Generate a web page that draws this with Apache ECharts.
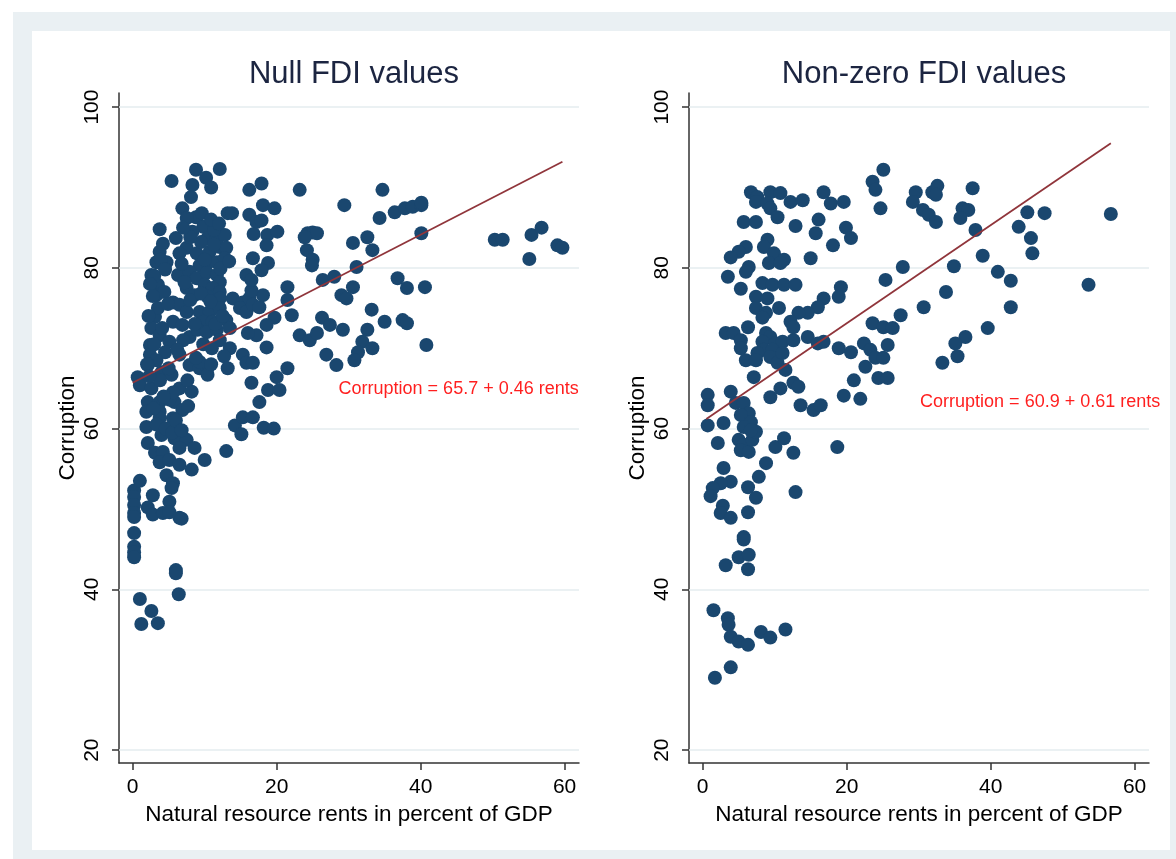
<!DOCTYPE html>
<html>
<head>
<meta charset="utf-8">
<script src="https://cdn.jsdelivr.net/npm/echarts@6/dist/echarts.min.js"></script>
<style>
  html, body { margin: 0; padding: 0; background: #fff; }
  .frame { position: absolute; left: 13px; top: 12px; width: 1163px; height: 847px; background: #eaf0f3; }
  .panel { position: absolute; left: 32px; top: 31px; width: 1138px; height: 819px; background: #fff; }
  .chart-container { position: absolute; left: 0; top: 0; width: 1176px; height: 859px; }
</style>
</head>
<body>
<div class="frame"></div>
<div class="panel"></div>
<div class="chart-container"></div>
<script>
// natural resource rents (% of GDP), corruption
const nullFdiPoints = [
  [0.2,52.3],[0.2,51.5],[0.2,50.5],[0.2,49.5],[0.2,49.0],[0.2,47.0],[0.2,45.3],[0.2,44.6],[0.2,44.0],[1.0,53.5],
  [1.0,38.8],[2.6,37.3],[1.2,35.7],[3.5,35.8],[6.0,42.4],[6.0,42.0],[6.4,39.4],
  [2.8,51.7],[2.1,50.2],[2.8,49.3],[4.2,49.5],[5.1,50.9],[5.1,49.6],[6.5,48.9],[6.8,48.8],
  [2.1,63.3],[3.75,63.3],[1.9,62.1],[3.75,62.1],[5.8,63.3],[6.9,62.3],[5.6,61.3],[3.75,61.3],[1.9,60.2],[4.0,59.2],
  [2.1,58.2],[3.1,57.0],[4.2,57.1],[5.8,58.8],[7.5,58.6],[8.6,57.6],[6.5,57.6],[3.75,55.8],[5.1,56.1],[6.5,55.5],
  [8.2,54.9],[4.7,54.2],[5.6,53.2],[5.4,52.6],[10.0,56.1],[13.0,57.2],[14.2,60.4],[15.3,61.4],[16.7,61.4],[15.1,59.3],
  [17.6,63.3],[18.2,60.1],[19.6,60.0],
  [5.4,90.8],[8.8,92.2],[12.1,92.3],[10.2,91.2],[10.9,90.0],[8.3,90.3],[8.1,88.8],[6.9,87.4],[8.8,86.3],[9.8,85.1],
  [3.75,84.8],[13.2,86.8],[13.8,86.8],[16.2,89.7],[17.9,90.5],[18.1,87.8],[16.2,86.6],[17.2,85.7],[16.8,84.2],[18.7,84.1],
  [23.2,89.7],[34.7,89.7],[29.4,87.8],[34.3,86.2],[36.4,86.9],[37.8,87.4],[38.9,87.6],[40.1,87.8],[40.1,88.1],[40.1,84.3],
  [24.3,84.3],[25.0,84.4],[25.6,84.3],[23.9,83.8],[24.2,82.2],[25.0,81.0],[24.9,80.3],[30.6,83.1],[32.6,83.8],[33.3,82.2],
  [31.1,80.1],[50.3,83.5],[51.4,83.5],[55.4,84.1],[56.8,85.0],[55.1,81.1],[59.0,82.8],[59.7,82.5],[26.4,78.5],[28.0,78.9],
  [30.6,77.6],[29.0,76.6],[29.7,76.2],[36.8,78.7],[38.1,77.5],[40.6,77.6],[33.2,74.8],[35.0,73.3],[37.5,73.5],[38.1,73.1],
  [26.3,73.8],[27.4,72.9],[29.2,72.3],[23.2,71.6],[24.6,71.0],[25.6,71.9],[32.6,72.3],[31.9,70.8],[31.3,69.5],[30.8,68.5],
  [33.3,70.0],[26.9,69.2],[28.3,67.9],[40.8,70.4],[21.5,77.6],[21.5,76.0],[22.1,74.1],[19.7,73.8],[18.6,70.1],[21.5,67.5],
  [20.0,66.4],[18.8,64.8],[20.4,64.8],[19.7,87.4],[17.9,85.9],[20.1,84.5],[18.8,80.6],[17.9,79.7],
  [3.75,82.0],[3.3,80.7],[4.7,80.7],[2.6,79.1],[3.5,77.9],[3.3,76.6],[4.4,77.0],[6.3,79.1],[5.6,75.7],[3.1,73.9],
  [2.6,72.5],[3.75,71.6],[2.4,70.4],[2.4,69.2],[2.1,67.9],[0.7,66.4],[1.0,65.4],[2.6,65.0],[4.0,67.0],[5.1,70.8],
  [5.6,73.3],[6.9,72.9],[6.5,69.2],[7.9,71.4],[7.9,67.9],[9.3,67.5],[10.4,67.5],[5.4,66.7],[6.5,65.0],[8.2,64.6],[5.1,63.6],
  [7.5,86.2],[6.0,83.7],[8.3,84.5],[10.4,83.7],[11.7,83.8],[12.8,84.1],[7.5,82.5],[8.9,81.8],[6.5,81.8],[10.7,82.0],
  [12.1,82.6],[13.0,82.5],[10.4,80.7],[11.7,80.7],[12.8,81.2],[9.3,80.3],[7.9,79.5],[8.9,78.7],[10.3,79.4],[11.7,79.1],
  [12.1,78.2],[10.0,77.9],[7.5,77.5],[11.1,77.5],[12.1,77.0],[8.6,76.6],[10.4,76.4],[12.1,76.2],[13.9,76.2],[15.3,75.7],
  [16.2,76.2],[6.5,75.4],[7.5,74.5],[9.3,74.5],[10.7,74.5],[12.1,75.0],[13.0,73.5],[9.8,73.3],[11.1,73.3],[9.0,72.3],
  [10.3,72.0],[11.7,72.3],[13.5,72.5],[12.1,71.0],[13.5,70.0],[15.3,69.2],[15.8,68.2],[16.7,68.2],[10.4,66.7],[9.3,68.3],
  [16.5,65.7],[17.2,71.6],[16.0,71.9],[18.6,72.9],[14.9,75.0],[15.8,74.5],[16.7,75.4],[17.6,75.1],[18.1,76.6],[16.5,77.2],
  [15.8,79.1],[16.5,78.5],[16.7,81.2],[18.6,82.8],
  [3.0,79.0],[2.4,78.0],[3.9,81.0],[4.2,83.0],[4.5,79.8],[2.8,76.5],[3.5,75.0],[4.9,75.5],[2.2,74.0],[4.1,72.5],
  [3.0,70.5],[4.5,69.5],[3.3,68.5],[2.0,68.0],[5.0,67.5],[3.8,66.0],[2.3,66.5],[5.6,64.5],[4.3,64.0],[2.9,62.5],
  [3.3,60.5],[4.6,60.0],[5.5,59.5],[6.0,61.0],[6.8,80.5],[7.2,78.2],[8.0,76.0],[9.5,76.8],[10.8,75.8],[11.5,73.0],
  [12.5,74.0],[8.6,73.0],[7.0,71.0],[9.8,70.5],[11.0,70.0],[12.7,69.0],[6.2,69.8],[8.8,68.8],[10.9,68.0],[13.2,67.5],
  [7.6,66.0],[7.7,62.8],[6.8,59.8],[11.3,84.7],[9.5,83.2],[12.2,79.9],[13.4,80.8],[10.0,81.0],[8.0,83.8],[11.3,82.9],
  [7.0,85.0],[9.6,86.8],[10.9,86.0],[12.0,85.5]
];

const nonZeroFdiPoints = [
  [6.7,89.4],[7.6,88.8],[7.4,88.2],[9.4,89.4],[10.8,89.3],[9.0,88.0],[9.4,87.4],[10.4,86.3],[12.2,88.2],[13.9,88.4],
  [16.8,89.4],[17.8,88.0],[19.6,88.2],[5.7,85.7],[7.4,85.7],[12.9,85.2],[16.1,86.0],[15.7,84.3],[19.9,85.0],[20.6,83.7],
  [18.1,82.8],[23.6,90.7],[24.0,89.7],[25.1,92.2],[24.7,87.4],[9.0,83.5],[8.5,82.6],[6.0,82.6],[5.0,82.0],[3.9,81.3],
  [9.9,81.8],[11.3,81.0],[9.2,80.6],[10.8,80.6],[15.0,81.2],[6.4,80.1],[6.0,79.5],[3.5,78.9],[5.3,77.4],[8.3,78.1],
  [9.7,77.9],[11.3,77.9],[12.9,77.9],[7.4,76.4],[9.0,76.2],[19.2,77.6],[18.9,76.4],[16.8,76.2],[16.0,75.1],[14.6,74.4],
  [13.3,74.4],[10.6,75.0],[7.4,75.0],[8.8,74.4],[8.3,73.8],[12.2,73.3],[12.6,72.6],[6.3,72.6],[3.2,71.9],[4.3,71.9],
  [5.3,71.0],[5.3,70.0],[8.8,71.9],[9.4,71.4],[8.3,70.8],[10.1,70.6],[11.1,70.8],[8.5,69.8],[9.7,69.8],[7.6,69.4],
  [12.6,71.0],[14.6,71.4],[16.0,70.6],[16.8,70.8],[6.0,68.5],[7.4,68.5],[9.4,68.9],[10.4,68.2],[11.5,67.3],[11.1,69.4],
  [7.1,66.4],[18.9,70.0],[20.6,69.5],[22.4,70.6],[23.3,69.8],[24.0,68.8],[22.6,67.7],[23.6,73.1],[25.1,72.6],[25.4,78.5],
  [21.0,66.0],[24.4,66.3],[25.7,66.3],[10.8,65.0],[9.4,63.9],[12.6,65.7],[13.3,65.2],[19.6,64.1],[21.9,63.7],[13.6,62.9],
  [15.4,62.3],[16.4,62.9],[0.7,64.2],[0.7,62.9],[3.9,64.6],[4.6,63.2],[5.7,63.2],[6.4,61.9],[5.3,61.7],[6.7,60.8],
  [2.9,60.7],[0.7,60.4],
  [2.1,58.2],[5.0,58.6],[5.7,58.0],[5.3,57.3],[6.4,57.1],[6.9,58.6],[7.4,59.6],[5.7,60.2],[6.7,59.8],[10.1,57.7],
  [11.3,58.8],[12.6,57.0],[18.7,57.7],[2.9,55.1],[8.8,55.7],[7.8,54.0],[3.9,53.4],[2.5,53.2],[1.4,52.6],[1.1,51.6],
  [6.3,52.7],[12.9,52.1],[7.4,51.4],[2.8,50.4],[2.5,49.5],[3.9,48.9],[6.3,49.6],[5.7,46.5],[5.7,46.2],[5.0,44.0],
  [6.4,44.3],[3.2,43.0],[6.3,42.5],[1.5,37.4],[3.5,36.4],[3.6,35.6],[3.9,34.1],[5.0,33.5],[6.3,33.1],[8.1,34.7],
  [9.4,34.0],[11.5,35.0],[3.9,30.3],[1.7,29.0],
  [29.6,89.4],[29.2,88.2],[31.9,89.4],[32.6,90.2],[32.4,89.1],[37.5,89.9],[30.6,87.2],[31.4,86.6],[32.4,85.7],[36.1,87.4],
  [36.9,87.2],[35.8,86.2],[37.9,84.7],[45.1,86.9],[47.5,86.8],[56.7,86.7],[43.9,85.1],[45.6,83.7],[45.8,81.8],[38.9,81.5],
  [34.9,80.2],[27.8,80.1],[41.0,79.5],[42.8,78.4],[53.6,77.9],[33.8,77.0],[30.7,75.1],[27.5,74.1],[42.8,75.1],[26.4,72.5],
  [39.6,72.5],[36.5,71.4],[35.1,70.6],[35.4,69.0],[33.3,68.2],[25.7,70.4],[25.1,68.8]
];

// fitted lines (end points as drawn)
const nullFdiFit = [[0, 65.7], [59.7, 93.2]];
const nonZeroFdiFit = [[0.5, 61.2], [56.7, 95.5]];

const panelTitles = ['Null FDI values', 'Non-zero FDI values'];
const fitLabels = ['Corruption = 65.7 + 0.46 rents', 'Corruption = 60.9 + 0.61 rents'];
const fitLabelAt = [[28.6, 64.9], [30.2, 63.3]];

const xTicks = [0, 20, 40, 60];
const yTicks = [20, 40, 60, 80, 100];

const font = "'Liberation Sans', Arial, sans-serif";
const axisColor = '#333';
const dotColor = '#1a476f';
const fitColor = '#90353b';

const grids = [
  { left: 119, top: 93, width: 460, height: 670 },
  { left: 689, top: 93, width: 460, height: 670 },
];

const makeXAxis = (idx) => ({
  gridIndex: idx,
  type: 'value',
  min: -1.9,
  max: 62,
  name: 'Natural resource rents in percent of GDP',
  nameLocation: 'middle',
  nameGap: 36,
  nameTextStyle: { fontSize: 22.5, color: '#000', fontFamily: font },
  axisLine: { show: true, onZero: false, lineStyle: { color: axisColor, width: 1.5 } },
  axisTick: { show: true, length: 7, customValues: xTicks, lineStyle: { color: axisColor, width: 1.5 } },
  axisLabel: { customValues: xTicks, fontSize: 21, color: '#000', fontFamily: font, margin: 14 },
  splitLine: { show: false },
});

const makeYAxis = (idx) => ({
  gridIndex: idx,
  type: 'value',
  min: 18.4,
  max: 101.75,
  name: 'Corruption',
  nameLocation: 'middle',
  nameGap: 40,
  nameTextStyle: { fontSize: 22.5, color: '#000', fontFamily: font },
  axisLine: { show: true, onZero: false, lineStyle: { color: axisColor, width: 1.5 } },
  axisTick: { show: true, length: 7, customValues: yTicks, lineStyle: { color: axisColor, width: 1.5 } },
  axisLabel: { customValues: yTicks, rotate: 90, fontSize: 21, color: '#000', fontFamily: font, margin: 16 },
  splitLine: { show: false },
});

const makeSeries = (idx, points, fit) => ([
  {
    type: 'scatter',
    xAxisIndex: idx,
    yAxisIndex: idx,
    data: [],
    silent: true,
    markLine: {
      z: 1,
      silent: true,
      symbol: 'none',
      label: { show: false },
      lineStyle: { color: '#e4edef', width: 1.5, type: 'solid' },
      data: yTicks.map((v) => ({ yAxis: v })),
    },
  },
  {
    type: 'scatter',
    xAxisIndex: idx,
    yAxisIndex: idx,
    z: 3,
    symbolSize: 14,
    itemStyle: { color: dotColor, opacity: 1 },
    data: points,
  },
  {
    type: 'line',
    xAxisIndex: idx,
    yAxisIndex: idx,
    z: 4,
    symbol: 'none',
    lineStyle: { color: fitColor, width: 1.8 },
    data: fit,
    markPoint: {
      symbol: 'circle',
      symbolSize: 0,
      label: {
        show: true,
        position: 'right',
        distance: 0,
        color: '#ff1f1f',
        fontSize: 18,
        fontFamily: font,
        formatter: fitLabels[idx],
      },
      data: [{ coord: fitLabelAt[idx] }],
    },
  },
]);

const chartOptions = {
  backgroundColor: 'transparent',
  animation: false,
  title: panelTitles.map((text, i) => ({
    text,
    left: grids[i].left + grids[i].width / 2,
    top: 54,
    textAlign: 'center',
    textStyle: { fontSize: 31, fontWeight: 'normal', color: '#1c2541', fontFamily: font },
  })),
  grid: grids,
  xAxis: [makeXAxis(0), makeXAxis(1)],
  yAxis: [makeYAxis(0), makeYAxis(1)],
  series: [
    ...makeSeries(0, nullFdiPoints, nullFdiFit),
    ...makeSeries(1, nonZeroFdiPoints, nonZeroFdiFit),
  ],
};

const myChart = echarts.init(document.querySelector('.chart-container'));
myChart.setOption(chartOptions);
</script>
</body>
</html>
